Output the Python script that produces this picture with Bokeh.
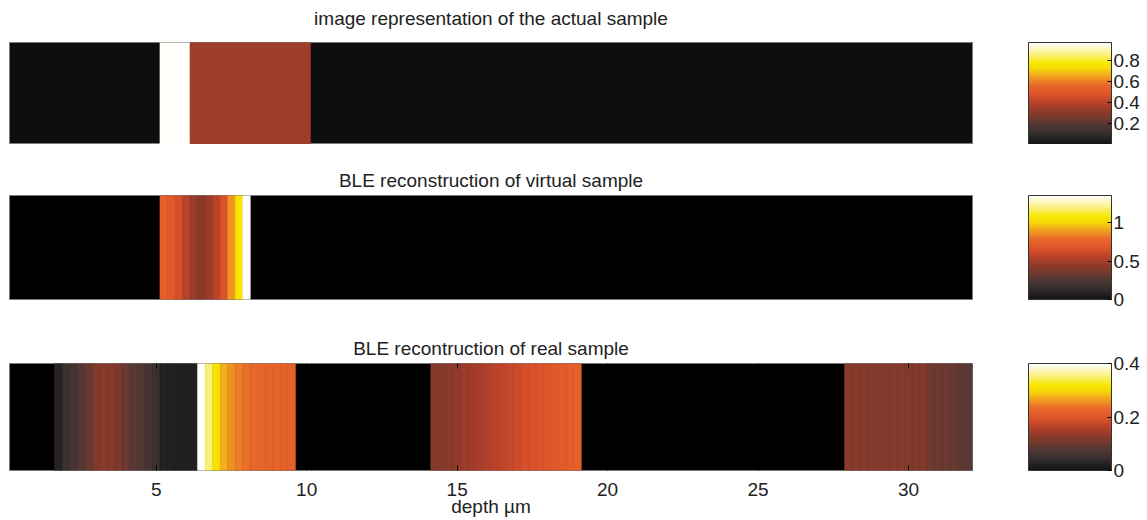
import numpy as np
from bokeh.plotting import figure
from bokeh.models import (ColumnDataSource, LinearColorMapper, ColorBar, FixedTicker,
                          LinearAxis, Range1d)
from bokeh.core.properties import value
from bokeh.layouts import column
from bokeh.transform import transform
from bokeh.embed import file_html
from bokeh.resources import INLINE

# ---------------- data ----------------
BIN = 0.25                       # depth resolution (um)
DEPTH_MIN, DEPTH_MAX = 0.125, 32.125
X_TICKS = [5, 10, 15, 20, 25, 30]

titles = ["image representation of the actual sample",
          "BLE reconstruction of virtual sample",
          "BLE recontruction of real sample"]
x_label = "depth µm"

# actual sample: layers (start depth, end depth, value)
actual_left = [5.125, 6.125]
actual_right = [6.125, 10.125]
actual_values = [0.96, 0.345]
actual_range = (0.0, 0.966)
actual_ticks = [0.2, 0.4, 0.6, 0.8]

# virtual sample reconstruction: bins of BIN starting at virtual_start
virtual_start = [5.125]
virtual_values = [[0.74, 0.70, 0.64, 0.56, 0.47, 0.42, 0.47, 0.56, 0.66, 0.88, 1.07, 1.35]]
virtual_range = (0.0, 1.355)
virtual_ticks = [0, 0.5, 1]

# real sample reconstruction: three non-zero segments
real_start = [1.625, 14.125, 27.875]
real_values = [
    [0.026, 0.048, 0.062, 0.080, 0.095, 0.112, 0.126, 0.124, 0.108, 0.096,
     0.084, 0.078, 0.064, 0.048, 0.022, 0.021, 0.020, 0.020, 0.021,
     0.400, 0.350, 0.310, 0.276, 0.256, 0.244, 0.236, 0.232, 0.228, 0.224,
     0.222, 0.220, 0.220],
    [0.118, 0.122, 0.126, 0.130, 0.140, 0.145, 0.150, 0.155, 0.165, 0.170,
     0.175, 0.180, 0.188, 0.192, 0.196, 0.200, 0.205, 0.210, 0.215, 0.220],
    [0.126, 0.124, 0.120, 0.120, 0.120, 0.120, 0.119, 0.119, 0.118, 0.118,
     0.117, 0.100, 0.098, 0.096, 0.094, 0.086, 0.082],
]
real_range = (0.0, 0.4)
real_ticks = [0, 0.2, 0.4]

# ---------------- colormap (black-brown-red-orange-yellow-white) ----------------
CMAP_POS = [0.0, 0.04, 0.12, 0.20, 0.27, 0.32, 0.40, 0.48, 0.52, 0.58, 0.63, 0.68,
            0.75, 0.80, 0.88, 1.0]
CMAP_HEX = ["#141414", "#1f1d1e", "#3a3131", "#553835", "#7a3a2e", "#8c3a2a",
            "#b4402a", "#d8512a", "#e25a2a", "#e8682a", "#ef8a22", "#f3aa1c",
            "#f6dc06", "#f8e800", "#faf07a", "#ffffff"]


def _rgb(h):
    return [int(h[i:i + 2], 16) for i in (1, 3, 5)]


_anch = np.array([_rgb(h) for h in CMAP_HEX], dtype=float)
_t = np.linspace(0, 1, 256)
PALETTE = ["#%02x%02x%02x" % tuple(int(round(np.interp(t, CMAP_POS, _anch[:, c])))
                                   for c in range(3)) for t in _t]

FONT = "Liberation Sans"
TXT = "#222222"
FS = "19px"
FRAME_W = 963


def bins_to_quads(starts, values):
    left, right, val = [], [], []
    for s, vals in zip(starts, values):
        for i, v in enumerate(vals):
            left.append(s + i * BIN)
            right.append(s + (i + 1) * BIN)
            val.append(v)
    return left, right, val


def title_strip(text, height, center_from_top):
    t = figure(frame_width=FRAME_W, frame_height=height,
               x_range=Range1d(DEPTH_MIN, DEPTH_MAX), y_range=Range1d(0, height),
               output_backend="svg", toolbar_location=None,
               x_axis_type=None, y_axis_type=None,
               min_border_left=9, min_border_right=175,
               min_border_top=0, min_border_bottom=0)
    t.outline_line_color = None
    t.grid.visible = False
    t.text(x=[(DEPTH_MIN + DEPTH_MAX) / 2], y=[height - center_from_top], text=[text],
           text_align="center", text_baseline="middle", text_font=value(FONT),
           text_font_size=FS, text_color=TXT)
    return t


def make_strip(title, left, right, vals, vrange, ticks, bg, frame_h, top, bottom,
               standoff, show_x):
    mapper = LinearColorMapper(palette=PALETTE, low=vrange[0], high=vrange[1])
    p = figure(frame_width=FRAME_W, frame_height=frame_h,
               x_range=Range1d(DEPTH_MIN, DEPTH_MAX), y_range=Range1d(0, 1),
               output_backend="svg", toolbar_location=None,
               x_axis_type="linear" if show_x else None, y_axis_type=None,
               min_border_left=9, min_border_right=175,
               min_border_top=top, min_border_bottom=bottom)
    p.background_fill_color = bg
    p.border_fill_color = "white"
    p.outline_line_color = "#7a7a7a"
    p.grid.visible = False
    src = ColumnDataSource(dict(left=left, right=right, v=vals))
    p.quad(left="left", right="right", bottom=0, top=1, source=src,
           fill_color=transform("v", mapper), line_color=transform("v", mapper),
           line_width=0.6)

    if title:
        p.title.text = title
        p.title.align = "center"
        p.title.text_font = FONT
        p.title.text_font_size = FS
        p.title.text_font_style = "normal"
        p.title.text_color = TXT
        p.title.standoff = standoff

    cb = ColorBar(color_mapper=mapper, ticker=FixedTicker(ticks=ticks),
                  width=83, height=frame_h, margin=0, padding=0,
                  location=(1019, 0),
                  major_tick_in=4, major_tick_out=0,
                  major_tick_line_color="black",
                  bar_line_color="#333333", border_line_color=None,
                  background_fill_alpha=0,
                  major_label_text_font=FONT, major_label_text_font_size=FS,
                  major_label_text_color=TXT, label_standoff=2)
    p.add_layout(cb, "center")

    if show_x:
        ax = p.xaxis[0]
        ax.ticker = FixedTicker(ticks=X_TICKS)
        ax.major_tick_in = 5
        ax.major_tick_out = 0
        ax.minor_tick_line_color = None
        ax.axis_line_color = None
        ax.major_tick_line_color = "black"
        ax.major_label_text_font = FONT
        ax.major_label_text_font_size = FS
        ax.major_label_text_color = TXT
        ax.major_label_standoff = 12
        ax.axis_label = x_label
        ax.axis_label_text_font = FONT
        ax.axis_label_text_font_size = FS
        ax.axis_label_text_font_style = "normal"
        ax.axis_label_text_color = TXT
        ax.axis_label_standoff = -3

        top_ax = LinearAxis(ticker=FixedTicker(ticks=X_TICKS),
                            major_tick_in=5, major_tick_out=0,
                            minor_tick_line_color=None, axis_line_color=None,
                            major_tick_line_color="black",
                            major_label_text_font_size="1px",
                            major_label_text_alpha=0, major_label_standoff=0)
        p.add_layout(top_ax, "above")
    return p


a_l, a_r, a_v = actual_left, actual_right, actual_values
v_l, v_r, v_v = bins_to_quads(virtual_start, virtual_values)
r_l, r_r, r_v = bins_to_quads(real_start, real_values)

t1 = title_strip(titles[0], 42, 18)
p1 = make_strip(None, a_l, a_r, a_v, actual_range, actual_ticks, "#0e0e0e",
                102, 0, 0, 0, False)
p2 = make_strip(titles[1], v_l, v_r, v_v, virtual_range, virtual_ticks, "#000000",
                104, 51, 12, 10, False)
p3 = make_strip(titles[2], r_l, r_r, r_v, real_range, real_ticks, "#000000",
                107, 52, 50, 9, True)

layout = column(t1, p1, p2, p3, spacing=0)
open("out.html", "w").write(file_html(layout, INLINE))
